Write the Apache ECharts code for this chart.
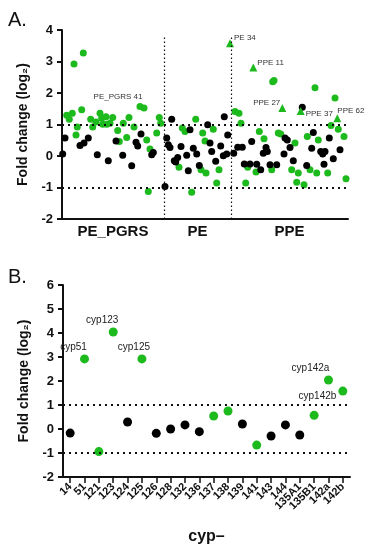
<!DOCTYPE html>
<html><head><meta charset="utf-8">
<script src="https://cdn.jsdelivr.net/npm/echarts@6/dist/echarts.min.js"></script>
<style>html,body{margin:0;padding:0;background:#fff}#c{width:368px;height:550px}</style>
</head><body><div id="c"></div>
<script>
// ---------- Panel A data (x = position along the gene axis, y = log2 fold change) ----------
const groupNames = ['PE_PGRS', 'PE', 'PPE'];
const groupEdges = [0, 102, 169, 286];
const aYTicks = [-2, -1, 0, 1, 2, 3, 4];

const aGreen = [
  [4.7,1.29],[10.3,1.36],[7.3,1.17],[19.7,1.47],[15.3,0.92],[14,0.67],[28.7,1.17],[30.7,0.92],
  [34,1.08],[38,1.36],[39.7,1.2],[40.7,1.01],[44,1.25],[44.7,1.01],[48,1.04],[50.7,1.22],
  [55.7,0.81],[57.3,0.46],[61.3,1.04],[64.7,0.59],[67,1.22],[72,0.92],[82,1.52],
  [84.7,0.51],[88,0.22],[94.7,0.73],[97.3,1.22],[98.7,1.04],[86.3,-1.13],[21.3,3.27],[12,2.92],
  [120.3,0.89],[123,0.78],[133.7,1.17],[140.7,0.73],[143,0.48],[151.3,0.85],[117,-0.36],
  [139,-0.44],[144,-0.54],[157,-0.44],[154.7,-0.86],[129.7,-1.15],
  [173,1.41],[177,1.36],[179,1.04],[185.7,-0.36],[183.7,-0.86],[253,2.17],[273,1.84],
  [197.3,0.78],[202,0.55],[216.3,0.73],[218.7,0.70],[233,0.41],[245.3,0.62],[256.3,0.51],
  [269,0.97],[276.3,0.85],[282,0.62],[194,-0.51],[209.7,-0.44],[229.7,-0.44],[236.3,-0.54],
  [234.7,-0.83],[242,-0.91],[248,-0.44],[254.7,-0.54],[265.7,-0.54],[284,-0.72],[212,2.40],[210.7,2.36]
];
const aGreenLabelled = [[78, 1.57, 'PE_PGRS 41']];
const aBlack = [
  [3,0.57],[0.7,0.06],[18,0.33],[22,0.41],[26.3,0.57],[35.3,0.04],[46.3,-0.15],[54,0.48],
  [60.7,0.02],[69.7,-0.31],[74,0.44],[75.7,0.32],[79,0.70],[89.7,0.04],[91.3,0.11],
  [103,-0.97],[109.7,1.17],[104.7,0.57],[106.3,0.36],[108,0.27],[119,0.30],[112.3,-0.15],
  [115.7,-0.05],[113.7,-0.19],[124.7,0.02],[126.3,-0.47],[128,0.83],[131.3,0.25],[134.7,0.06],
  [137.3,-0.30],[145.7,0.99],[148,0.41],[149.7,0.14],[153.7,-0.17],[158.7,0.32],[161.3,0.01],
  [164.7,0.06],[162.3,1.25],[165.7,0.67],
  [171.7,0.09],[175.7,0.28],[180.3,0.28],[182.3,-0.25],[188,-0.25],[189.7,0.46],[194.7,-0.26],
  [198.7,-0.44],[201.3,0.09],[204,0.27],[205.3,0.14],[208,-0.28],[214.7,-0.28],[223,0.57],
  [225.3,0.51],[228,0.27],[222,0.06],[231.3,-0.15],[240.3,1.55],[244.7,-0.30],[249.7,0.25],
  [251.3,0.75],[267.3,0.57],[258.7,0.14],[260.7,0.06],[263,0.14],[271.3,-0.09],[278,0.20],[262,-0.26]
];
const aTriangles = [
  [168, 3.58, 'PE 34'], [191.3, 2.81, 'PPE 11'], [220.3, 1.52, 'PPE 27'],
  [238.7, 1.43, 'PPE 37'], [275.3, 1.20, 'PPE 62']
];

// ---------- Panel B data ----------
const cypCategories = ['14','51','121','123','124','125','126','128','132','136','137','138','139','141','143','144','135A1','135B1','142a','142b'];
const cypValues = [-0.17, 2.92, -0.94, 4.04, 0.29, 2.92, -0.18, 0.0, 0.17, -0.11, 0.54, 0.75, 0.21, -0.67, -0.29, 0.17, -0.25, 0.57, 2.04, 1.58];
const cypSignificant = [0,1,1,1,0,1,0,0,0,0,1,1,0,1,0,0,0,1,1,1];
const cypLabels = {'51':'cyp51','123':'cyp123','125':'cyp125','142a':'cyp142a','142b':'cyp142b'};
const bYTicks = [-2, -1, 0, 1, 2, 3, 4, 5, 6];

const GREEN = '#1DBA1D', BLACK = '#000000';
const FONT = "'Liberation Sans', Arial, sans-serif";

const triLabelPos = {
  'PE 34': {position:'right', distance:2, offset:[-2,-5]},
  'PPE 11': {position:'right', distance:2, offset:[-2,-5]},
  'PPE 27': {position:'left', distance:2, offset:[4,-5]},
  'PPE 37': {position:'right', distance:2, offset:[-1,3]},
  'PPE 62': {position:'right', distance:2, offset:[-6,-7]}
};
const cypLabelPos = {
  'cyp51': {position:'top', distance:2, offset:[-11,0]},
  'cyp123': {position:'top', distance:2, offset:[-11,0]},
  'cyp125': {position:'top', distance:2, offset:[-8,0]},
  'cyp142a': {position:'top', distance:2, offset:[-18,0]},
  'cyp142b': {position:'left', distance:2, offset:[0,5]}
};

const dotted = (w, t) => ({color:'#111', width:w, type:t});
const mid = i => (groupEdges[i] + groupEdges[i+1]) / 2;

const chart = echarts.init(document.getElementById('c'), null, {renderer:'canvas'});
chart.setOption({
  animation: false,
  textStyle: {fontFamily: FONT},
  title: [
    {text:'A.', left:3, top:5, textStyle:{fontSize:20, fontWeight:'normal', color:'#111', fontFamily:FONT}},
    {text:'B.', left:3, top:262, textStyle:{fontSize:20, fontWeight:'normal', color:'#111', fontFamily:FONT}}
  ],
  grid: [
    {left:62, right:20, top:30, height:189},
    {left:63, right:18, top:285, height:192}
  ],
  xAxis: [
    {gridIndex:0, type:'value', min:groupEdges[0], max:groupEdges[3],
     axisLine:{show:true, onZero:false, lineStyle:{color:'#111', width:2}}, axisTick:{show:false}, splitLine:{show:false},
     axisLabel:{customValues:[mid(0), mid(1), mid(2)], margin:5, color:'#111', fontSize:15, fontWeight:'bold',
       formatter: v => { for (let i=0;i<3;i++) if (Math.abs(v-mid(i))<0.01) return groupNames[i]; return ''; }}},
    {gridIndex:1, type:'category', data:cypCategories, boundaryGap:true,
     axisLine:{show:true, onZero:false, lineStyle:{color:'#111', width:2}},
     axisTick:{show:true, alignWithLabel:true, length:6, lineStyle:{width:1.5, color:'#111'}},
     axisLabel:{rotate:45, interval:0, margin:8, color:'#111', fontSize:11, fontWeight:'bold'},
     name:'cyp–', nameLocation:'middle', nameGap:52,
     nameTextStyle:{fontSize:16, fontWeight:'bold', color:'#111'}}
  ],
  yAxis: [
    {gridIndex:0, type:'value', min:aYTicks[0], max:aYTicks[aYTicks.length-1], interval:1,
     axisLine:{show:true, onZero:false, lineStyle:{color:'#111', width:2}},
     axisTick:{show:true, length:5, lineStyle:{width:2, color:'#111'}},
     splitLine:{show:false},
     axisLabel:{margin:9, color:'#111', fontSize:13, fontWeight:'bold'},
     name:'Fold change (log₂)', nameLocation:'middle', nameGap:32,
     nameTextStyle:{fontSize:14, fontWeight:'bold', color:'#111'}},
    {gridIndex:1, type:'value', min:bYTicks[0], max:bYTicks[bYTicks.length-1], interval:1,
     axisLine:{show:true, onZero:false, lineStyle:{color:'#111', width:2}},
     axisTick:{show:true, length:5, lineStyle:{width:2, color:'#111'}},
     splitLine:{show:false},
     axisLabel:{margin:9, color:'#111', fontSize:13, fontWeight:'bold'},
     name:'Fold change (log₂)', nameLocation:'middle', nameGap:32,
     nameTextStyle:{fontSize:14, fontWeight:'bold', color:'#111'}}
  ],
  series: [
    {type:'scatter', xAxisIndex:0, yAxisIndex:0, symbolSize:7, itemStyle:{color:GREEN, opacity:1},
     data: aGreen.concat(aGreenLabelled.map(p => ({value:[p[0],p[1]],
        label:{show:true, formatter:p[2], position:'top', distance:2, offset:[-22,0], fontSize:8, color:'#333'}}))),
     markLine:{silent:true, symbol:'none', label:{show:false},
       data:[
         {yAxis:1, lineStyle:dotted(2,[2,4])},
         {yAxis:-1, lineStyle:dotted(2,[2,4])},
         [{coord:[groupEdges[1], aYTicks[0]], lineStyle:dotted(1.2,[1.5,2.5])}, {coord:[groupEdges[1], 3.82]}],
         [{coord:[groupEdges[2], aYTicks[0]], lineStyle:dotted(1.2,[1.5,2.5])}, {coord:[groupEdges[2], 3.82]}]
       ]}},
    {type:'scatter', xAxisIndex:0, yAxisIndex:0, symbolSize:7, itemStyle:{color:BLACK, opacity:1}, data:aBlack},
    {type:'scatter', xAxisIndex:0, yAxisIndex:0, symbol:'triangle', symbolSize:8, itemStyle:{color:GREEN, opacity:1},
     data: aTriangles.map(p => ({value:[p[0],p[1]],
        label:Object.assign({show:true, formatter:p[2], fontSize:8, color:'#333'}, triLabelPos[p[2]])}))},
    {type:'scatter', xAxisIndex:1, yAxisIndex:1, symbolSize:9,
     data: cypCategories.map((c,i) => {
        const item = {value:[c, cypValues[i]], itemStyle:{color: cypSignificant[i] ? GREEN : BLACK, opacity:1}};
        if (cypLabels[c]) item.label = Object.assign({show:true, formatter:cypLabels[c], fontSize:10, color:'#222'}, cypLabelPos[cypLabels[c]]);
        return item;
     }),
     markLine:{silent:true, symbol:'none', label:{show:false},
       data:[{yAxis:1, lineStyle:dotted(2,[2,4])}, {yAxis:-1, lineStyle:dotted(2,[2,4])}]}}
  ]
});
</script></body></html>
